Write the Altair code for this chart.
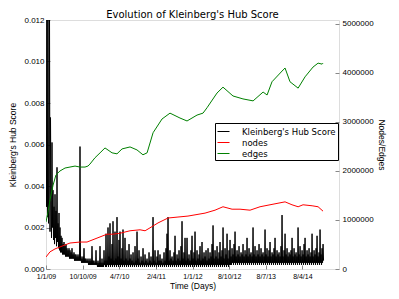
import altair as alt
import numpy as np
import pandas as pd

# ---------------- data ----------------
x_tick_days = [0, 275, 550, 825, 1100, 1375, 1650, 1925]
x_tick_labels = ["1/1/09", "10/10/09", "4/7/10", "2/4/11", "1/1/12", "8/10/12", "8/7/13", "8/4/14"]

left_ticks = [0.0, 0.002, 0.004, 0.006, 0.008, 0.010, 0.012]
right_ticks = [0, 1000000, 2000000, 3000000, 4000000, 5000000]

series_names = ["Kleinberg's Hub Score", "nodes", "edges"]
series_colors = ["#000000", "#ff0000", "#008000"]

# Kleinberg's hub score, sampled every ~3.75 days, in units of 1e-4
hub_step_days = 3.755
hub_values_e4 = [
    125, 30, 125, 25, 125, 22, 40, 125, 18, 73, 33, 15, 61, 20, 38, 14, 30, 12, 36, 15,
    28, 11, 49, 13, 22, 10, 27, 9,
    20, 8, 16, 8, 15, 7, 12, 7, 13, 7, 11, 6, 12, 6, 10, 6, 9, 6, 10, 5, 9, 5,
    8, 5, 10, 5, 7, 5, 8, 4, 7, 4, 7, 4, 6, 4, 7, 4, 6, 4, 59, 4,
    6, 3, 5, 3, 6, 3, 10, 3, 5, 3, 5, 3, 4, 3, 5, 2, 4, 2, 5, 2,
    4, 2, 11, 2, 4, 2, 4, 2, 3, 2, 9, 2, 3, 1, 4, 1, 3, 1, 11, 1,
    3, 1, 5, 1, 3, 1, 9, 2, 4, 1,
    17, 1, 4, 2, 20, 1, 6, 2, 22, 1, 5, 2, 12, 1, 23, 2, 4, 1, 18, 2,
    5, 1, 25, 2, 6, 1, 14, 2, 18, 1, 5, 2, 10, 1, 19, 2, 4, 1, 15, 2,
    5, 1, 9, 2, 4, 1, 12, 2, 5, 1, 7, 2, 4, 1, 8, 2, 3, 1, 11, 2,
    4, 1, 18, 2, 5, 1, 9, 2, 3, 1, 6, 2, 4, 1, 10, 2, 3, 1, 7, 2,
    4, 1, 5, 2, 3, 1, 8, 2, 4, 1, 6, 2, 3, 1, 25, 2, 4, 1, 9, 2,
    3, 1, 6, 2, 9, 1, 4, 2, 7, 1, 4, 2, 5, 1, 3, 2, 8, 1, 4, 2,
    10, 1, 17, 2, 25, 1, 4, 2, 9, 1, 5, 2, 6, 1, 4, 2, 8, 1, 16, 2,
    4, 1, 7, 2, 5, 1, 9, 2, 4, 1, 11, 2, 23, 1, 5, 2, 8, 1, 15, 2,
    4, 1, 15, 2, 5, 1, 7, 2, 4, 1, 9, 2, 16, 1, 5, 2, 8, 1, 18, 2,
    4, 1, 9, 2, 5, 1, 7, 2, 11, 1, 4, 2, 13, 1, 5, 2, 8, 1, 6, 2,
    9, 1, 4, 2, 10, 1, 5, 2, 8, 1, 6, 2, 12, 1, 21, 2, 5, 1, 9, 2,
    6, 1, 11, 2, 5, 1, 8, 2, 13, 1, 6, 2, 9, 1, 20, 2, 5, 1, 10, 2,
    7, 1, 17, 2, 5, 1, 9, 2, 14, 2,
    6, 2, 10, 3, 7, 2, 12, 3, 18, 2, 6, 3, 9, 2, 7, 3, 11, 2, 6, 3,
    8, 2, 7, 3, 12, 2, 6, 3, 9, 2, 7, 3, 15, 2, 6, 3, 10, 2, 7, 3,
    8, 2, 6, 3, 20, 2, 7, 3, 11, 2, 6, 3, 9, 2, 7, 3, 12, 2, 6, 3,
    10, 2, 7, 3, 8, 2, 6, 3, 19, 2, 7, 3, 10, 2, 6, 3, 9, 2, 13, 3,
    6, 2, 8, 3, 7, 2, 10, 3, 15, 2, 6, 3, 9, 2, 7, 3, 8, 2, 6, 3,
    11, 2, 26, 3, 6, 2, 9, 3, 17, 2, 7, 3, 10, 2, 6, 3, 8, 2, 7, 3,
    9, 2, 15, 3, 6, 2, 10, 3, 7, 2, 8, 3, 6, 2, 20, 3, 7, 2, 11, 3,
    6, 2, 9, 3, 7, 2, 12, 3, 15, 2, 6, 3, 9, 2, 7, 3, 10, 2, 6, 3,
    8, 2, 17, 3, 6, 2, 9, 3, 7, 2, 10, 3, 16, 2, 6, 3, 8, 2, 19, 3,
    7, 2, 10, 3, 12, 4,
]

nodes_days = [0, 30, 68, 105, 180, 255, 308, 383, 458, 503, 556, 631, 706, 744, 781,
              841, 916, 991, 1066, 1194, 1269, 1329, 1397, 1457, 1532, 1607, 1682,
              1795, 1847, 1893, 1930, 1998, 2043, 2080]
nodes_millions = [0.245, 0.35, 0.41, 0.45, 0.53, 0.55, 0.55, 0.63, 0.71, 0.71, 0.73, 0.78,
                  0.80, 0.78, 0.84, 0.94, 1.04, 1.06, 1.08, 1.14, 1.20, 1.27, 1.22, 1.22,
                  1.20, 1.27, 1.31, 1.37, 1.31, 1.27, 1.31, 1.29, 1.27, 1.18]

edges_days = [0, 15, 30, 53, 75, 105, 143, 180, 218, 255, 293, 315, 330, 368, 406, 443,
              496, 533, 571, 631, 683, 728, 759, 804, 871, 931, 1006, 1059, 1134, 1179,
              1209, 1284, 1329, 1404, 1479, 1555, 1630, 1660, 1697, 1780, 1795, 1832,
              1893, 1945, 2005, 2043, 2073, 2080]
edges_millions = [0.96, 1.16, 1.41, 1.71, 1.92, 2.00, 2.06, 2.08, 2.10, 2.08, 2.08, 2.10,
                  2.14, 2.27, 2.37, 2.47, 2.37, 2.35, 2.45, 2.49, 2.43, 2.33, 2.37, 2.78,
                  3.06, 3.18, 3.08, 3.02, 3.14, 3.18, 3.29, 3.59, 3.71, 3.53, 3.47, 3.43,
                  3.61, 3.55, 3.82, 4.06, 4.10, 3.82, 3.69, 3.92, 4.12, 4.20, 4.18, 4.20]

# ---------------- tables ----------------
hub = pd.DataFrame({
    "day": np.arange(len(hub_values_e4)) * hub_step_days,
    "value": np.array(hub_values_e4) * 1e-4,
    "series": series_names[0],
})
nodes = pd.DataFrame({"day": nodes_days, "value": np.array(nodes_millions) * 1e6, "series": series_names[1]})
edges = pd.DataFrame({"day": edges_days, "value": np.array(edges_millions) * 1e6, "series": series_names[2]})
counts = pd.concat([nodes, edges], ignore_index=True)

FONT = "DejaVu Sans"
W, H = 293, 249

x_scale = alt.Scale(domain=[0, 2200], nice=False, zero=False)
left_scale = alt.Scale(domain=[0, 0.012], nice=False)
right_scale = alt.Scale(domain=[0, 5080000], nice=False)
color_scale = alt.Scale(domain=series_names, range=series_colors)

label_expr = "[" + ",".join("'%s'" % s for s in x_tick_labels) + "][indexof([" + \
    ",".join(str(d) for d in x_tick_days) + "], datum.value)]"

legend = alt.Legend(
    title=None, orient="none", legendX=169, legendY=103,
    symbolType="stroke", symbolSize=144, symbolStrokeWidth=1,
    labelFont=FONT, labelFontSize=8.5, labelColor="black", labelOffset=12,
    padding=2, rowPadding=0, strokeColor="black", fillColor="white",
    labelLimit=300,
)
color_enc = alt.Color("series:N", scale=color_scale, legend=legend)

# main hub line with bottom and left labelled axes
hub_line = alt.Chart(hub).mark_line(strokeWidth=1, clip=True).encode(
    x=alt.X("day:Q", scale=x_scale, axis=alt.Axis(
        orient="bottom", values=x_tick_days, labelExpr=label_expr, ticks=False,
        domain=False, grid=False, labelFontSize=7, labelPadding=3, labelFlush=False,
        title="Time (Days)", titleFontSize=8.5, titlePadding=2, titleFontWeight="normal")),
    y=alt.Y("value:Q", scale=left_scale, axis=alt.Axis(
        orient="left", values=left_ticks, format=".3f", ticks=False, domain=False,
        grid=False, labelFontSize=8, labelPadding=2, labelFlush=False,
        title="Kleinberg's Hub Score", titleFontSize=8.5, titlePadding=6,
        titleFontWeight="normal")),
    color=color_enc,
    order=alt.Order("day:Q"),
)
# invisible helper carrying inward ticks (bottom edge pointing up, left edge pointing right)
hub_ticks = alt.Chart(hub).mark_line(opacity=0, clip=True).encode(
    x=alt.X("day:Q", scale=x_scale, axis=alt.Axis(
        orient="top", offset=-H, values=x_tick_days, labels=False, domain=False,
        grid=False, tickSize=4, title="")),
    y=alt.Y("value:Q", scale=left_scale, axis=alt.Axis(
        orient="right", offset=-W, values=left_ticks, labels=False, domain=False,
        grid=False, tickSize=4, title="")),
)
left_group = alt.layer(hub_line, hub_ticks)

count_lines = alt.Chart(counts).mark_line(strokeWidth=1, clip=True).encode(
    x=alt.X("day:Q", scale=x_scale, axis=alt.Axis(
        orient="bottom", offset=-H, values=x_tick_days, labels=False, domain=False,
        grid=False, tickSize=4, title="")),
    y=alt.Y("value:Q", scale=right_scale, axis=alt.Axis(
        orient="right", values=right_ticks, format="d", ticks=False, domain=False,
        grid=False, labelFontSize=8, labelPadding=3, labelFlush=False,
        title="Nodes/Edges", titleFontSize=8.5, titlePadding=3, titleFontWeight="normal")),
    color=color_enc,
    detail="series:N",
    order=alt.Order("day:Q"),
)
count_ticks = alt.Chart(counts).mark_line(opacity=0, clip=True).encode(
    x=alt.X("day:Q", scale=x_scale, axis=None),
    y=alt.Y("value:Q", scale=right_scale, axis=alt.Axis(
        orient="left", offset=-W, values=right_ticks, labels=False, domain=False,
        grid=False, tickSize=4, title="")),
    detail="series:N",
)
right_group = alt.layer(count_lines, count_ticks)

chart = alt.layer(left_group, right_group).resolve_scale(
    y="independent"
).properties(
    width=W, height=H,
    title=alt.Title("Evolution of Kleinberg's Hub Score", fontSize=10, font=FONT,
                    fontWeight="normal", color="black", offset=-4,
                    anchor="middle", frame="group"),
    autosize=alt.AutoSizeParams(type="none"),
    padding={"left": 38, "top": 12, "right": 52, "bottom": 22},
).configure_view(
    stroke="black", strokeWidth=1
).configure_axis(
    labelFont=FONT, titleFont=FONT, labelColor="black", titleColor="black",
    tickColor="black", tickWidth=1, titleFontWeight="normal",
).configure(background="white")

chart.save("out.html", embed_options={"renderer": "svg", "actions": False})
